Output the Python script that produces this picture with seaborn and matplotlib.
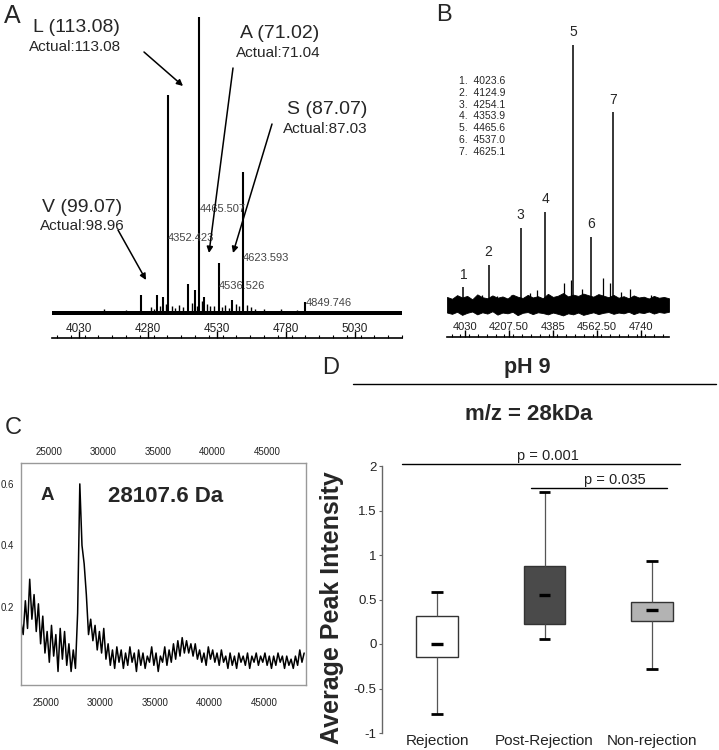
import numpy as np
import pandas as pd
import matplotlib
matplotlib.use("Agg")
import matplotlib.pyplot as plt
from matplotlib.lines import Line2D
from matplotlib.ticker import MultipleLocator, FixedLocator
import seaborn as sns

# ---------------- Panel A data (MS spectrum, ladder) ----------------
a_ticks = [4030, 4280, 4530, 4780, 5030]
a_peak_mass = [4254, 4312, 4334, 4352.423, 4425, 4450, 4465.507, 4483, 4536.526, 4584, 4623.593, 4849.746]
a_peak_int = [6.1, 6.1, 5.4, 73.6, 9.8, 7.8, 100, 5.4, 16.9, 4.4, 47.6, 3.7]
a_grass_mass = [4120, 4200, 4290, 4300, 4322, 4345, 4365, 4378, 4392, 4405, 4440, 4458, 4475,
                4492, 4505, 4520, 4548, 4560, 4572, 4598, 4608, 4640, 4652, 4668, 4700, 4760, 4820]
a_grass_int = [1.2, 1.0, 2.0, 1.5, 2.5, 3.0, 2.2, 1.8, 2.8, 2.0, 3.5, 2.5, 4.0,
               3.0, 2.2, 2.5, 2.0, 2.8, 1.8, 3.0, 2.5, 2.6, 2.0, 1.5, 1.3, 1.2, 1.0]
a_labeled = ["4465.507", "4352.423", "4623.593", "4536.526", "4849.746"]
a_residues = ["L (113.08)", "A (71.02)", "S (87.07)", "V (99.07)"]
a_actual = ["Actual:113.08", "Actual:71.04", "Actual:87.03", "Actual:98.96"]

# ---------------- Panel B data ----------------
b_ticks = [4030, 4207.5, 4385, 4562.5, 4740]
b_tick_labels = ["4030", "4207.50", "4385", "4562.50", "4740"]
b_peak_mass = [4023.6, 4124.9, 4254.1, 4353.9, 4465.6, 4537.0, 4625.1]
b_peak_int = [6.9, 15.4, 29.6, 35.8, 100, 26.2, 74.2]
b_spike_mass = [4215, 4320, 4429, 4457, 4586, 4614, 4695, 4100, 4160, 4290, 4500, 4660, 4780]
b_spike_int = [3.8, 5.8, 8.5, 9.6, 10.4, 8.5, 6.2, 4.0, 3.5, 4.5, 6.0, 5.0, 4.0]
b_noise_top = [3.1, 2.4, 3.8, 2.9, 3.5, 2.2, 4.1, 3.0, 2.6, 3.7, 2.8, 3.3, 2.5, 4.0, 3.2,
               2.7, 3.9, 2.9, 3.4, 2.6, 4.3, 3.1, 3.6, 4.6, 3.3, 4.0, 3.5, 4.4, 3.8, 3.2,
               4.2, 3.6, 3.0, 3.9, 2.8, 3.4, 2.6, 3.7, 2.9, 3.2, 2.5, 3.5, 2.8, 3.1, 2.6]
b_noise_bot = [-2.9, -3.4, -2.6, -3.8, -3.0, -2.5, -3.6, -2.8, -3.3, -2.4, -3.7, -2.9, -3.2, -2.6, -3.9,
               -3.0, -2.7, -3.5, -2.8, -3.1, -3.6, -2.9, -3.4, -4.0, -3.2, -3.6, -2.9, -3.8, -3.3, -2.8,
               -3.5, -3.0, -2.7, -3.4, -2.9, -3.2, -2.6, -3.5, -2.8, -3.1, -2.5, -3.3, -2.7, -3.0, -2.6]

# ---------------- Panel C data (28 kDa region) ----------------
c_ticks = [25000, 30000, 35000, 40000, 45000]
c_yticks = [0.2, 0.4, 0.6]
c_intensity = [0.15, 0.11, 0.22, 0.13, 0.29, 0.16, 0.24, 0.12, 0.21, 0.08,
               0.17, 0.05, 0.12, 0.02, 0.14, 0.04, 0.11, -0.01, 0.13, 0.03,
               0.12, 0.01, 0.08, -0.01, 0.06, 0.00, 0.18, 0.60, 0.40, 0.34,
               0.24, 0.11, 0.16, 0.09, 0.14, 0.06, 0.12, 0.05, 0.13, 0.03,
               0.08, 0.01, 0.06, 0.00, 0.07, 0.02, 0.06, 0.00, 0.05, 0.01,
               0.07, 0.02, 0.05, -0.01, 0.06, 0.01, 0.05, 0.00, 0.04, 0.02,
               0.07, 0.01, 0.05, -0.01, 0.04, 0.02, 0.07, 0.01, 0.06, 0.02,
               0.08, 0.03, 0.09, 0.04, 0.10, 0.05, 0.09, 0.05, 0.08, 0.04,
               0.08, 0.03, 0.06, 0.02, 0.05, 0.01, 0.07, 0.03, 0.06, 0.02,
               0.05, 0.01, 0.06, 0.02, 0.04, 0.00, 0.05, 0.01, 0.04, 0.00,
               0.05, 0.02, 0.04, 0.01, 0.05, 0.00, 0.04, 0.02, 0.05, 0.01,
               0.04, 0.02, 0.05, 0.01, 0.04, 0.00, 0.04, 0.01, 0.05, 0.02,
               0.04, 0.00, 0.04, 0.01, 0.03, 0.00, 0.04, 0.01, 0.06, 0.02, 0.05]
c_mass = 22700 + 200 * np.arange(len(c_intensity))

# ---------------- Panel D data (box plot) ----------------
groups = ["Rejection", "Post-Rejection", "Non-rejection"]
rejection = [-0.79, -0.15, 0.00, 0.315, 0.58]
post_rejection = [0.053, 0.225, 0.547, 0.88, 1.705]
non_rejection = [-0.28, 0.258, 0.38, 0.475, 0.936]
box_colors = ["#ffffff", "#4a4a4a", "#b3b3b3"]
p_labels = ["p = 0.001", "p = 0.035"]

# ---------------- figure ----------------
sns.set_style("white")
plt.rcParams["font.family"] = ["Liberation Sans", "DejaVu Sans"]
W, H = 719, 750
fig = plt.figure(figsize=(W / 100, H / 100), dpi=100)


def rect(l, t, r, b):
    return [l / W, 1 - b / H, (r - l) / W, (b - t) / H]


def ftext(px, py, s, **kw):
    fig.text(px / W, 1 - py / H, s, **kw)


def farrow(x1, y1, x2, y2):
    fig.add_artist(matplotlib.patches.FancyArrowPatch(
        (x1 / W, 1 - y1 / H), (x2 / W, 1 - y2 / H), transform=fig.transFigure,
        arrowstyle="-|>", mutation_scale=9, color="black", lw=1.1,
        shrinkA=0, shrinkB=0))


narrow = ["Liberation Sans Narrow", "DejaVu Sans Condensed", "Liberation Sans"]


def ruler(ax, ticks, labels, minor_step, labelsize):
    for sp in ["top", "left", "right"]:
        ax.spines[sp].set_visible(False)
    ax.spines["bottom"].set_linewidth(1.2)
    ax.spines["bottom"].set_color("black")
    ax.set_yticks([])
    ax.xaxis.set_major_locator(FixedLocator(ticks))
    ax.xaxis.set_minor_locator(MultipleLocator(minor_step))
    ax.set_xticklabels(labels, family=narrow)
    ax.tick_params(axis="x", which="major", bottom=True, direction="in", length=5, width=1,
                   labelsize=labelsize, pad=-11, colors="black", labelcolor="#222222")
    ax.tick_params(axis="x", which="minor", bottom=True, direction="in", length=2.5,
                   width=0.8, colors="black")
    ax.patch.set_alpha(0)


# ---- Panel A ----
axA = fig.add_axes(rect(52, 0, 402, 338))
axA.set_xlim(3932, 5200)
axA.set_ylim(-8.45, 105.7)
axA.fill_between([3932, 5200], -0.8, 0.8, color="black", lw=0)
axA.vlines(a_grass_mass, 0, a_grass_int, color="black", lw=1.0)
axA.vlines(a_peak_mass, 0, a_peak_int, color="black", lw=1.5)
ruler(axA, a_ticks, [str(t) for t in a_ticks], 50, 8.5)
label_pos_A = {"4465.507": 35, "4352.423": 25.3, "4623.593": 18.6, "4536.526": 9.1, "4849.746": 3.4}
for lab in a_labeled:
    axA.text(float(lab), label_pos_A[lab], lab, fontsize=8, color="#444444",
             ha="left", va="center")

ftext(12, 16, "A", fontsize=18, ha="center", va="center")
res_pos = [(76, 27, 75, 47), (280, 33, 278, 53), (327, 110, 325, 129), (82, 207, 82, 226)]
for (x1, y1, x2, y2), r, a in zip(res_pos, a_residues, a_actual):
    ftext(x1, y1, r, fontsize=14, ha="center", va="center")
    ftext(x2, y2, a, fontsize=11, ha="center", va="center")
farrow(144, 52, 183, 86)
farrow(233, 68, 209, 253)
farrow(272, 124, 233, 253)
farrow(118, 230, 146, 280)

# ---- Panel B ----
axB = fig.add_axes(rect(447, 0, 669, 337))
axB.set_xlim(3957.5, 4852)
axB.set_ylim(-12.3, 117.3)
nx = np.linspace(3957.5, 4852, len(b_noise_top))
axB.fill_between(nx, b_noise_bot, b_noise_top, color="black", lw=0.6, edgecolor="black")
axB.vlines(b_spike_mass, 0, b_spike_int, color="black", lw=0.9)
axB.vlines(b_peak_mass, 0, b_peak_int, color="black", lw=1.1)
for i, (m, v) in enumerate(zip(b_peak_mass, b_peak_int)):
    axB.annotate(str(i + 1), (m, v), xytext=(0, 4), textcoords="offset points",
                 ha="center", va="bottom", fontsize=10)
ruler(axB, b_ticks, b_tick_labels, 35.5, 8)
ftext(444, 15, "B", fontsize=17, ha="center", va="center")
legend_txt = "\n".join(f"{i + 1}.  {m:.1f}" for i, m in enumerate(b_peak_mass))
ftext(459, 76, legend_txt, fontsize=7.5, ha="left", va="top", linespacing=1.22)

# ---- Panel C ----
axC = fig.add_axes(rect(21, 463, 306, 685))
sns.lineplot(x=c_mass, y=c_intensity, ax=axC, color="black", lw=1.1)
axC.set_xlim(22700, 48870)
axC.set_ylim(-0.054, 0.668)
axC.set_xticks(c_ticks)
axC.set_yticks(c_yticks)
axC.set_yticklabels([f"{t:.1f}" for t in c_yticks])
axC.tick_params(axis="both", length=0, labelsize=7, colors="#222222")
axC.tick_params(axis="x", pad=9)
axC.tick_params(axis="y", pad=5)
secC = axC.secondary_xaxis("top", functions=(lambda x: x - 280, lambda x: x + 280))
secC.set_xticks(c_ticks)
secC.tick_params(axis="x", length=0, labelsize=7, pad=4, colors="#222222")
secC.spines["top"].set_visible(False)
for sp in axC.spines.values():
    sp.set_color("#999999")
    sp.set_linewidth(1)
ftext(13, 428, "C", fontsize=17, ha="center", va="center")
ftext(47, 495, "A", fontsize=13.5, fontweight="bold", ha="center", va="center")
ftext(166, 497, "28107.6 Da", fontsize=16, fontweight="bold", ha="center", va="center")

# ---- Panel D ----
axD = fig.add_axes(rect(382, 466, 706, 733))
df = pd.DataFrame({
    "group": np.repeat(groups, 5),
    "value": rejection + post_rejection + non_rejection,
})
sns.boxplot(data=df, x="group", y="value", hue="group", palette=box_colors,
            width=0.39, whis=(0, 100), linewidth=1, linecolor="#333333",
            medianprops={"visible": False}, capprops={"visible": False},
            whiskerprops={"color": "#555555", "linewidth": 0.9},
            legend=False, ax=axD)
series = [rejection, post_rejection, non_rejection]
for i, vals in enumerate(series):
    axD.hlines([min(vals), max(vals)], i - 0.055, i + 0.055, color="black", lw=2.0)
    axD.hlines(np.median(vals), i - 0.055, i + 0.055, color="black", lw=2.4)
axD.set_xlim(-0.512, 2.502)
axD.set_ylim(-1, 2)
axD.set_yticks([-1, -0.5, 0, 0.5, 1, 1.5, 2])
axD.set_yticklabels(["-1", "-0.5", "0", "0.5", "1", "1.5", "2"])
axD.set_xlabel("")
axD.set_ylabel("")
for sp in ["top", "right", "bottom"]:
    axD.spines[sp].set_visible(False)
axD.spines["left"].set_color("#666666")
axD.spines["left"].set_linewidth(1)
axD.tick_params(axis="y", left=True, length=2, width=0.8, labelsize=9.5, pad=2,
                colors="#666666", labelcolor="#222222")
axD.tick_params(axis="x", length=0, labelsize=11, pad=1, labelcolor="#222222")
axD.patch.set_alpha(0)
# significance bars
axD.plot([-0.33, 2.26], [2.02, 2.02], color="black", lw=1, clip_on=False)
axD.text(1.03, 2.03, p_labels[0], ha="center", va="bottom", fontsize=10.5, color="#222222")
axD.plot([0.87, 2.14], [1.753, 1.753], color="black", lw=1, clip_on=False)
axD.text(1.65, 1.763, p_labels[1], ha="center", va="bottom", fontsize=10.5, color="#222222")

ftext(332, 608, "Average Peak Intensity", rotation=90, fontsize=18, fontweight="bold",
      ha="center", va="center")
ftext(331, 368, "D", fontsize=17, ha="center", va="center")
ftext(527, 367, "pH 9", fontsize=15.5, fontweight="bold", ha="center", va="center")
fig.add_artist(Line2D([353 / W, 716 / W], [1 - 384 / H, 1 - 384 / H], color="black", lw=1))
ftext(529, 415, "m/z = 28kDa", fontsize=16, fontweight="bold", ha="center", va="center")

fig.savefig("out.png", dpi=100)
